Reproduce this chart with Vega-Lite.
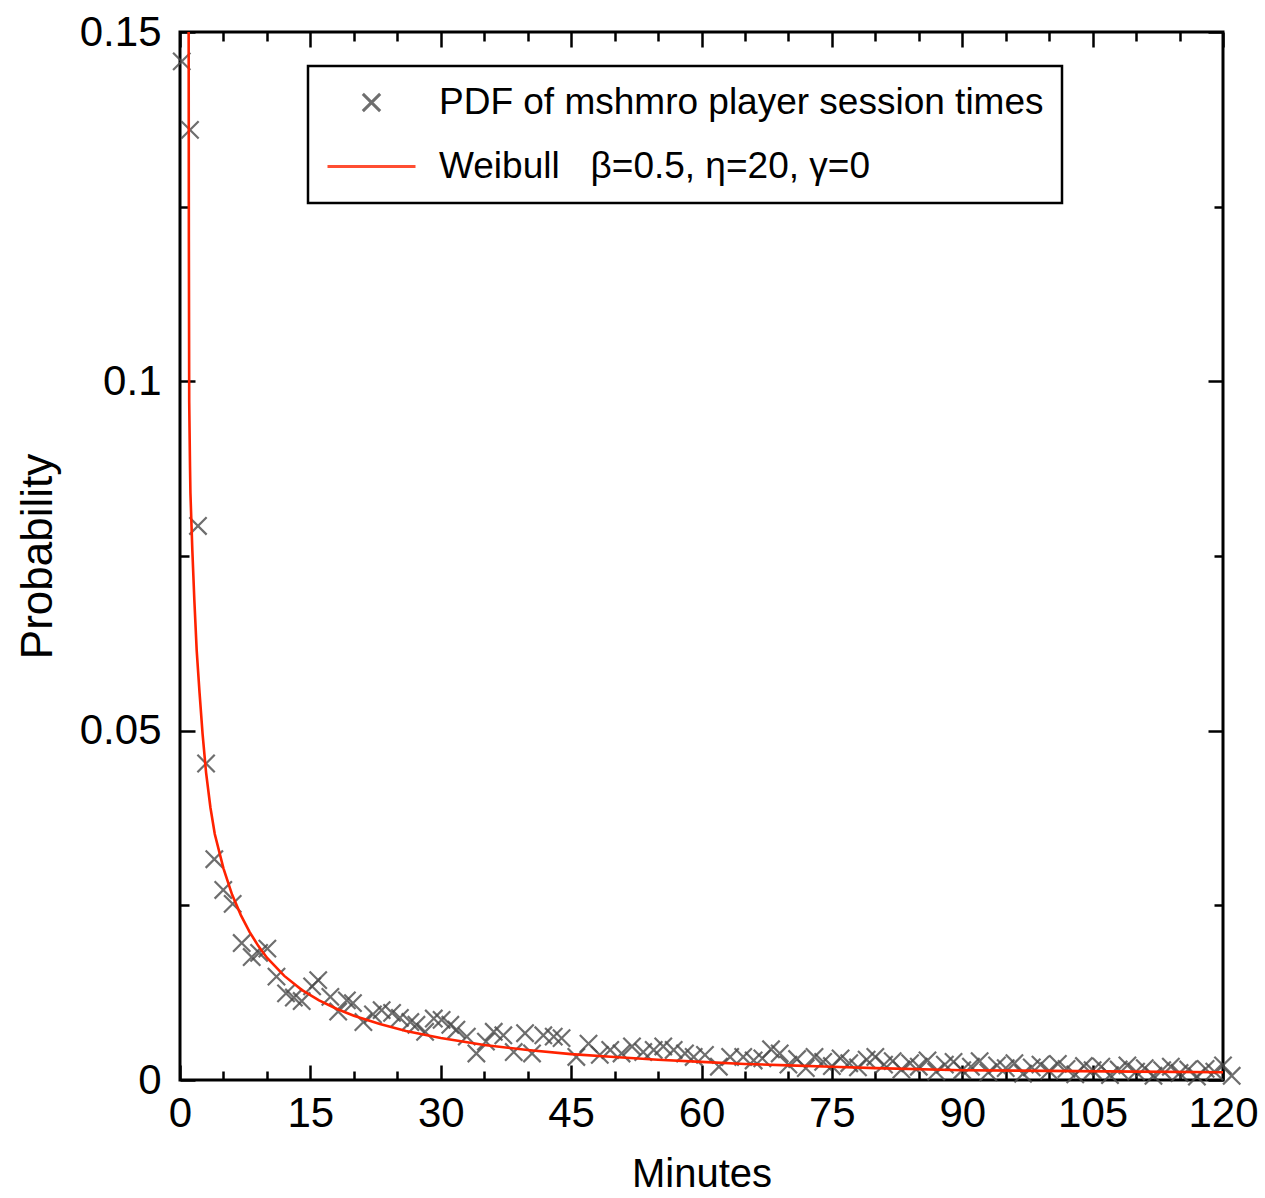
{
  "$schema": "https://vega.github.io/schema/vega-lite/v6.json",
  "width": 1043,
  "height": 1048,
  "autosize": {"type": "none"},
  "padding": {"left": 180, "top": 32, "right": 42, "bottom": 118},
  "background": "white",
  "config": {
    "view": {"stroke": "black", "strokeWidth": 3},
    "axis": {
      "domain": false,
      "grid": false,
      "tickColor": "black",
      "tickWidth": 2.5,
      "labelFont": "Liberation Sans",
      "labelFontSize": 42,
      "labelColor": "black",
      "titleFont": "Liberation Sans",
      "titleFontWeight": "normal",
      "titleColor": "black"
    },
    "legend": {
      "orient": "none",
      "legendX": 128,
      "legendY": 34,
      "strokeColor": "black",
      "strokeWidth": 2.5,
      "fillColor": "white",
      "padding": 18,
      "labelFont": "Liberation Sans",
      "labelFontSize": 37,
      "labelColor": "black",
      "labelLimit": 1000,
      "symbolStrokeWidth": 3,
      "rowPadding": -8,
      "labelOffset": 22
    }
  },
  "datasets": {
    "pdf": [
      {"minutes": 0.2, "prob": 0.1458, "series": "PDF of mshmro player session times"},
      {"minutes": 1.15, "prob": 0.136, "series": "PDF of mshmro player session times"},
      {"minutes": 2.07, "prob": 0.0793, "series": "PDF of mshmro player session times"},
      {"minutes": 3.0, "prob": 0.0453, "series": "PDF of mshmro player session times"},
      {"minutes": 3.95, "prob": 0.0316, "series": "PDF of mshmro player session times"},
      {"minutes": 4.98, "prob": 0.0272, "series": "PDF of mshmro player session times"},
      {"minutes": 6.06, "prob": 0.0252, "series": "PDF of mshmro player session times"},
      {"minutes": 7.1, "prob": 0.0196, "series": "PDF of mshmro player session times"},
      {"minutes": 8.25, "prob": 0.0176, "series": "PDF of mshmro player session times"},
      {"minutes": 9.1, "prob": 0.0182, "series": "PDF of mshmro player session times"},
      {"minutes": 10.05, "prob": 0.0188, "series": "PDF of mshmro player session times"},
      {"minutes": 11.1, "prob": 0.0148, "series": "PDF of mshmro player session times"},
      {"minutes": 12.2, "prob": 0.0124, "series": "PDF of mshmro player session times"},
      {"minutes": 13.1, "prob": 0.0118, "series": "PDF of mshmro player session times"},
      {"minutes": 14.0, "prob": 0.0113, "series": "PDF of mshmro player session times"},
      {"minutes": 15.2, "prob": 0.0134, "series": "PDF of mshmro player session times"},
      {"minutes": 15.9, "prob": 0.0143, "series": "PDF of mshmro player session times"},
      {"minutes": 17.3, "prob": 0.0119, "series": "PDF of mshmro player session times"},
      {"minutes": 18.2, "prob": 0.0098, "series": "PDF of mshmro player session times"},
      {"minutes": 19.2, "prob": 0.0114, "series": "PDF of mshmro player session times"},
      {"minutes": 19.9, "prob": 0.011, "series": "PDF of mshmro player session times"},
      {"minutes": 21.1, "prob": 0.0083, "series": "PDF of mshmro player session times"},
      {"minutes": 22.2, "prob": 0.0094, "series": "PDF of mshmro player session times"},
      {"minutes": 23.2, "prob": 0.01, "series": "PDF of mshmro player session times"},
      {"minutes": 24.4, "prob": 0.0096, "series": "PDF of mshmro player session times"},
      {"minutes": 25.3, "prob": 0.0089, "series": "PDF of mshmro player session times"},
      {"minutes": 26.5, "prob": 0.0083, "series": "PDF of mshmro player session times"},
      {"minutes": 27.2, "prob": 0.0079, "series": "PDF of mshmro player session times"},
      {"minutes": 28.2, "prob": 0.0069, "series": "PDF of mshmro player session times"},
      {"minutes": 29.2, "prob": 0.0088, "series": "PDF of mshmro player session times"},
      {"minutes": 30.1, "prob": 0.0086, "series": "PDF of mshmro player session times"},
      {"minutes": 31.1, "prob": 0.0079, "series": "PDF of mshmro player session times"},
      {"minutes": 31.8, "prob": 0.0072, "series": "PDF of mshmro player session times"},
      {"minutes": 33.0, "prob": 0.0062, "series": "PDF of mshmro player session times"},
      {"minutes": 34.1, "prob": 0.0038, "series": "PDF of mshmro player session times"},
      {"minutes": 35.2, "prob": 0.0055, "series": "PDF of mshmro player session times"},
      {"minutes": 36.1, "prob": 0.0069, "series": "PDF of mshmro player session times"},
      {"minutes": 37.2, "prob": 0.0064, "series": "PDF of mshmro player session times"},
      {"minutes": 38.4, "prob": 0.004, "series": "PDF of mshmro player session times"},
      {"minutes": 39.7, "prob": 0.0067, "series": "PDF of mshmro player session times"},
      {"minutes": 40.5, "prob": 0.0038, "series": "PDF of mshmro player session times"},
      {"minutes": 41.8, "prob": 0.0064, "series": "PDF of mshmro player session times"},
      {"minutes": 43.0, "prob": 0.0062, "series": "PDF of mshmro player session times"},
      {"minutes": 43.9, "prob": 0.006, "series": "PDF of mshmro player session times"},
      {"minutes": 45.6, "prob": 0.0033, "series": "PDF of mshmro player session times"},
      {"minutes": 47.0, "prob": 0.0052, "series": "PDF of mshmro player session times"},
      {"minutes": 48.3, "prob": 0.0036, "series": "PDF of mshmro player session times"},
      {"minutes": 49.5, "prob": 0.0043, "series": "PDF of mshmro player session times"},
      {"minutes": 50.8, "prob": 0.0038, "series": "PDF of mshmro player session times"},
      {"minutes": 52.0, "prob": 0.0048, "series": "PDF of mshmro player session times"},
      {"minutes": 53.3, "prob": 0.004, "series": "PDF of mshmro player session times"},
      {"minutes": 54.5, "prob": 0.0043, "series": "PDF of mshmro player session times"},
      {"minutes": 55.6, "prob": 0.0048, "series": "PDF of mshmro player session times"},
      {"minutes": 56.8, "prob": 0.0043, "series": "PDF of mshmro player session times"},
      {"minutes": 58.1, "prob": 0.0038, "series": "PDF of mshmro player session times"},
      {"minutes": 59.1, "prob": 0.0033, "series": "PDF of mshmro player session times"},
      {"minutes": 60.4, "prob": 0.0036, "series": "PDF of mshmro player session times"},
      {"minutes": 62.0, "prob": 0.0019, "series": "PDF of mshmro player session times"},
      {"minutes": 63.3, "prob": 0.0033, "series": "PDF of mshmro player session times"},
      {"minutes": 64.8, "prob": 0.0033, "series": "PDF of mshmro player session times"},
      {"minutes": 66, "prob": 0.0028, "series": "PDF of mshmro player session times"},
      {"minutes": 67, "prob": 0.0031, "series": "PDF of mshmro player session times"},
      {"minutes": 68, "prob": 0.0044, "series": "PDF of mshmro player session times"},
      {"minutes": 69, "prob": 0.0038, "series": "PDF of mshmro player session times"},
      {"minutes": 70, "prob": 0.0022, "series": "PDF of mshmro player session times"},
      {"minutes": 71, "prob": 0.003, "series": "PDF of mshmro player session times"},
      {"minutes": 72, "prob": 0.0017, "series": "PDF of mshmro player session times"},
      {"minutes": 73, "prob": 0.0033, "series": "PDF of mshmro player session times"},
      {"minutes": 74, "prob": 0.0026, "series": "PDF of mshmro player session times"},
      {"minutes": 75, "prob": 0.002, "series": "PDF of mshmro player session times"},
      {"minutes": 76, "prob": 0.0031, "series": "PDF of mshmro player session times"},
      {"minutes": 77, "prob": 0.0024, "series": "PDF of mshmro player session times"},
      {"minutes": 78, "prob": 0.0018, "series": "PDF of mshmro player session times"},
      {"minutes": 79, "prob": 0.0029, "series": "PDF of mshmro player session times"},
      {"minutes": 80, "prob": 0.0033, "series": "PDF of mshmro player session times"},
      {"minutes": 81, "prob": 0.0022, "series": "PDF of mshmro player session times"},
      {"minutes": 82, "prob": 0.0027, "series": "PDF of mshmro player session times"},
      {"minutes": 83, "prob": 0.0015, "series": "PDF of mshmro player session times"},
      {"minutes": 84, "prob": 0.0024, "series": "PDF of mshmro player session times"},
      {"minutes": 85, "prob": 0.0019, "series": "PDF of mshmro player session times"},
      {"minutes": 86, "prob": 0.0028, "series": "PDF of mshmro player session times"},
      {"minutes": 87, "prob": 0.0012, "series": "PDF of mshmro player session times"},
      {"minutes": 88, "prob": 0.0022, "series": "PDF of mshmro player session times"},
      {"minutes": 89, "prob": 0.0026, "series": "PDF of mshmro player session times"},
      {"minutes": 90, "prob": 0.0014, "series": "PDF of mshmro player session times"},
      {"minutes": 91, "prob": 0.0019, "series": "PDF of mshmro player session times"},
      {"minutes": 92, "prob": 0.0027, "series": "PDF of mshmro player session times"},
      {"minutes": 93, "prob": 0.0011, "series": "PDF of mshmro player session times"},
      {"minutes": 94, "prob": 0.0021, "series": "PDF of mshmro player session times"},
      {"minutes": 95, "prob": 0.0017, "series": "PDF of mshmro player session times"},
      {"minutes": 96, "prob": 0.0024, "series": "PDF of mshmro player session times"},
      {"minutes": 97, "prob": 0.0009, "series": "PDF of mshmro player session times"},
      {"minutes": 98, "prob": 0.0018, "series": "PDF of mshmro player session times"},
      {"minutes": 99, "prob": 0.0022, "series": "PDF of mshmro player session times"},
      {"minutes": 100, "prob": 0.0013, "series": "PDF of mshmro player session times"},
      {"minutes": 101, "prob": 0.0023, "series": "PDF of mshmro player session times"},
      {"minutes": 102, "prob": 0.0016, "series": "PDF of mshmro player session times"},
      {"minutes": 103, "prob": 0.0008, "series": "PDF of mshmro player session times"},
      {"minutes": 104, "prob": 0.002, "series": "PDF of mshmro player session times"},
      {"minutes": 105, "prob": 0.0014, "series": "PDF of mshmro player session times"},
      {"minutes": 106, "prob": 0.0019, "series": "PDF of mshmro player session times"},
      {"minutes": 107, "prob": 0.0007, "series": "PDF of mshmro player session times"},
      {"minutes": 108, "prob": 0.0015, "series": "PDF of mshmro player session times"},
      {"minutes": 109, "prob": 0.0021, "series": "PDF of mshmro player session times"},
      {"minutes": 110, "prob": 0.0012, "series": "PDF of mshmro player session times"},
      {"minutes": 111, "prob": 0.0017, "series": "PDF of mshmro player session times"},
      {"minutes": 112, "prob": 0.0006, "series": "PDF of mshmro player session times"},
      {"minutes": 113, "prob": 0.0014, "series": "PDF of mshmro player session times"},
      {"minutes": 114, "prob": 0.0019, "series": "PDF of mshmro player session times"},
      {"minutes": 115, "prob": 0.001, "series": "PDF of mshmro player session times"},
      {"minutes": 116, "prob": 0.0015, "series": "PDF of mshmro player session times"},
      {"minutes": 117, "prob": 0.0005, "series": "PDF of mshmro player session times"},
      {"minutes": 118, "prob": 0.0016, "series": "PDF of mshmro player session times"},
      {"minutes": 119, "prob": 0.0012, "series": "PDF of mshmro player session times"},
      {"minutes": 120, "prob": 0.0021, "series": "PDF of mshmro player session times"},
      {"minutes": 121, "prob": 0.0006, "series": "PDF of mshmro player session times"}
    ],
    "fit": [
      {"minutes": 0.98, "prob": 0.17, "series": "Weibull\u00a0\u00a0\u00a0β=0.5, η=20, γ=0"},
      {"minutes": 1.02, "prob": 0.12, "series": "Weibull\u00a0\u00a0\u00a0β=0.5, η=20, γ=0"},
      {"minutes": 1.06, "prob": 0.097, "series": "Weibull\u00a0\u00a0\u00a0β=0.5, η=20, γ=0"},
      {"minutes": 1.15, "prob": 0.088, "series": "Weibull\u00a0\u00a0\u00a0β=0.5, η=20, γ=0"},
      {"minutes": 1.2, "prob": 0.084, "series": "Weibull\u00a0\u00a0\u00a0β=0.5, η=20, γ=0"},
      {"minutes": 1.42, "prob": 0.0758, "series": "Weibull\u00a0\u00a0\u00a0β=0.5, η=20, γ=0"},
      {"minutes": 1.65, "prob": 0.0687, "series": "Weibull\u00a0\u00a0\u00a0β=0.5, η=20, γ=0"},
      {"minutes": 1.92, "prob": 0.0615, "series": "Weibull\u00a0\u00a0\u00a0β=0.5, η=20, γ=0"},
      {"minutes": 2.25, "prob": 0.0554, "series": "Weibull\u00a0\u00a0\u00a0β=0.5, η=20, γ=0"},
      {"minutes": 2.6, "prob": 0.0495, "series": "Weibull\u00a0\u00a0\u00a0β=0.5, η=20, γ=0"},
      {"minutes": 3, "prob": 0.044, "series": "Weibull\u00a0\u00a0\u00a0β=0.5, η=20, γ=0"},
      {"minutes": 3.5, "prob": 0.039, "series": "Weibull\u00a0\u00a0\u00a0β=0.5, η=20, γ=0"},
      {"minutes": 4, "prob": 0.0352, "series": "Weibull\u00a0\u00a0\u00a0β=0.5, η=20, γ=0"},
      {"minutes": 5, "prob": 0.0303, "series": "Weibull\u00a0\u00a0\u00a0β=0.5, η=20, γ=0"},
      {"minutes": 6, "prob": 0.0265, "series": "Weibull\u00a0\u00a0\u00a0β=0.5, η=20, γ=0"},
      {"minutes": 7, "prob": 0.0236, "series": "Weibull\u00a0\u00a0\u00a0β=0.5, η=20, γ=0"},
      {"minutes": 8, "prob": 0.0212, "series": "Weibull\u00a0\u00a0\u00a0β=0.5, η=20, γ=0"},
      {"minutes": 9, "prob": 0.0192, "series": "Weibull\u00a0\u00a0\u00a0β=0.5, η=20, γ=0"},
      {"minutes": 10, "prob": 0.0175, "series": "Weibull\u00a0\u00a0\u00a0β=0.5, η=20, γ=0"},
      {"minutes": 12, "prob": 0.0149, "series": "Weibull\u00a0\u00a0\u00a0β=0.5, η=20, γ=0"},
      {"minutes": 14, "prob": 0.0129, "series": "Weibull\u00a0\u00a0\u00a0β=0.5, η=20, γ=0"},
      {"minutes": 16, "prob": 0.0114, "series": "Weibull\u00a0\u00a0\u00a0β=0.5, η=20, γ=0"},
      {"minutes": 18, "prob": 0.0102, "series": "Weibull\u00a0\u00a0\u00a0β=0.5, η=20, γ=0"},
      {"minutes": 20, "prob": 0.0092, "series": "Weibull\u00a0\u00a0\u00a0β=0.5, η=20, γ=0"},
      {"minutes": 23, "prob": 0.008, "series": "Weibull\u00a0\u00a0\u00a0β=0.5, η=20, γ=0"},
      {"minutes": 26, "prob": 0.007, "series": "Weibull\u00a0\u00a0\u00a0β=0.5, η=20, γ=0"},
      {"minutes": 30, "prob": 0.006, "series": "Weibull\u00a0\u00a0\u00a0β=0.5, η=20, γ=0"},
      {"minutes": 35, "prob": 0.005, "series": "Weibull\u00a0\u00a0\u00a0β=0.5, η=20, γ=0"},
      {"minutes": 40, "prob": 0.0043, "series": "Weibull\u00a0\u00a0\u00a0β=0.5, η=20, γ=0"},
      {"minutes": 45, "prob": 0.0037, "series": "Weibull\u00a0\u00a0\u00a0β=0.5, η=20, γ=0"},
      {"minutes": 50, "prob": 0.0033, "series": "Weibull\u00a0\u00a0\u00a0β=0.5, η=20, γ=0"},
      {"minutes": 55, "prob": 0.0029, "series": "Weibull\u00a0\u00a0\u00a0β=0.5, η=20, γ=0"},
      {"minutes": 60, "prob": 0.0026, "series": "Weibull\u00a0\u00a0\u00a0β=0.5, η=20, γ=0"},
      {"minutes": 65, "prob": 0.0023, "series": "Weibull\u00a0\u00a0\u00a0β=0.5, η=20, γ=0"},
      {"minutes": 70, "prob": 0.0021, "series": "Weibull\u00a0\u00a0\u00a0β=0.5, η=20, γ=0"},
      {"minutes": 75, "prob": 0.0019, "series": "Weibull\u00a0\u00a0\u00a0β=0.5, η=20, γ=0"},
      {"minutes": 80, "prob": 0.0017, "series": "Weibull\u00a0\u00a0\u00a0β=0.5, η=20, γ=0"},
      {"minutes": 90, "prob": 0.0014, "series": "Weibull\u00a0\u00a0\u00a0β=0.5, η=20, γ=0"},
      {"minutes": 100, "prob": 0.0013, "series": "Weibull\u00a0\u00a0\u00a0β=0.5, η=20, γ=0"},
      {"minutes": 110, "prob": 0.0012, "series": "Weibull\u00a0\u00a0\u00a0β=0.5, η=20, γ=0"},
      {"minutes": 120, "prob": 0.0011, "series": "Weibull\u00a0\u00a0\u00a0β=0.5, η=20, γ=0"}
    ]
  },
  "layer": [
    {
      "data": {"name": "pdf"},
      "mark": {"type": "point", "filled": false, "strokeWidth": 2.2, "opacity": 0.8, "clip": false},
      "encoding": {
        "x": {
          "field": "minutes",
          "type": "quantitative",
          "scale": {"domain": [0, 120], "nice": false, "zero": false},
          "axis": {
            "orient": "bottom",
            "values": [0, 5, 10, 15, 20, 25, 30, 35, 40, 45, 50, 55, 60, 65, 70, 75, 80, 85, 90, 95, 100, 105, 110, 115, 120],
            "labelExpr": "datum.value % 15 == 0 ? datum.label : ''",
            "tickSize": {"condition": {"test": "datum.value % 15 == 0", "value": -15}, "value": -9},
            "labelPadding": 28,
            "labelFlush": false,
            "labelOverlap": false,
            "title": "Minutes",
            "titleFont": "Liberation Sans",
            "titleFontSize": 40,
            "titleBaseline": "top",
            "titleY": 74
          }
        },
        "y": {
          "field": "prob",
          "type": "quantitative",
          "scale": {"domain": [0, 0.15], "nice": false, "zero": false},
          "axis": {
            "orient": "left",
            "values": [0, 0.025, 0.05, 0.075, 0.1, 0.125, 0.15],
            "labelExpr": "round(datum.value * 1000) % 50 == 0 ? format(datum.value, '~g') : ''",
            "tickSize": {"condition": {"test": "round(datum.value * 1000) % 50 == 0", "value": -15}, "value": -9},
            "labelPadding": 34,
            "labelFlush": false,
            "labelOverlap": false,
            "title": "Probability",
            "titleFontSize": 44,
            "titleX": -120,
            "titleBaseline": "bottom"
          }
        },
        "color": {
          "field": "series",
          "type": "nominal",
          "scale": {"domain": ["PDF of mshmro player session times", "Weibull\u00a0\u00a0\u00a0β=0.5, η=20, γ=0"], "range": ["#4a4a4a", "#ff2200"]},
          "legend": {"title": null}
        },
        "shape": {
          "field": "series",
          "type": "nominal",
          "scale": {"domain": ["PDF of mshmro player session times", "Weibull\u00a0\u00a0\u00a0β=0.5, η=20, γ=0"], "range": ["M-1,-1L1,1M-1,1L1,-1", "stroke"]},
          "legend": {"title": null}
        },
        "size": {
          "field": "series",
          "type": "ordinal",
          "scale": {"domain": ["PDF of mshmro player session times", "Weibull\u00a0\u00a0\u00a0β=0.5, η=20, γ=0"], "range": [300, 7744]},
          "legend": {"title": null}
        }
      }
    },
    {
      "data": {"name": "fit"},
      "mark": {"type": "line", "strokeWidth": 2.6, "clip": true},
      "encoding": {
        "x": {
          "field": "minutes",
          "type": "quantitative",
          "axis": {
            "orient": "top",
            "values": [0, 5, 10, 15, 20, 25, 30, 35, 40, 45, 50, 55, 60, 65, 70, 75, 80, 85, 90, 95, 100, 105, 110, 115, 120],
            "labels": false,
            "tickSize": {"condition": {"test": "datum.value % 15 == 0", "value": -15}, "value": -9},
            "title": null
          }
        },
        "y": {
          "field": "prob",
          "type": "quantitative",
          "axis": {
            "orient": "right",
            "values": [0, 0.025, 0.05, 0.075, 0.1, 0.125, 0.15],
            "labels": false,
            "tickSize": {"condition": {"test": "round(datum.value * 1000) % 50 == 0", "value": -15}, "value": -9},
            "title": null
          }
        },
        "color": {
          "field": "series",
          "type": "nominal",
          "scale": {"domain": ["PDF of mshmro player session times", "Weibull\u00a0\u00a0\u00a0β=0.5, η=20, γ=0"], "range": ["#4a4a4a", "#ff2200"]},
          "legend": {"title": null}
        }
      }
    }
  ],
  "resolve": {"axis": {"x": "independent", "y": "independent"}}
}
